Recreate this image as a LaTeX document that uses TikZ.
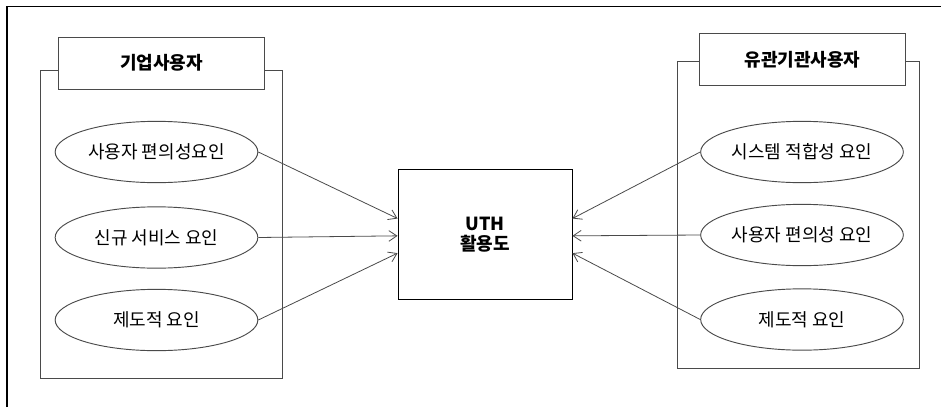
\documentclass[tikz,border=0pt]{standalone}
\usepackage{fontspec}
\setmainfont{Noto Sans CJK KR}
\usetikzlibrary{shapes.geometric,arrows.meta}
\definecolor{linegray}{HTML}{4A4A4A}
\tikzset{
  factor/.style={ellipse,draw=linegray,line width=0.7pt,minimum width=152pt,minimum height=46pt,inner sep=0pt,font=\fontsize{13.5}{16}\selectfont},
  grouptitle/.style={rectangle,draw=linegray,line width=0.7pt,fill=white,minimum width=155pt,minimum height=39pt,inner sep=0pt,font=\fontsize{13.5}{16}\selectfont\bfseries},
  groupframe/.style={draw=linegray,line width=0.7pt},
  effect/.style={draw=linegray,line width=0.6pt,-{Straight Barb[length=6pt,width=8pt]}}
}
\begin{document}
\begin{tikzpicture}[x=0.75pt,y=-0.75pt]
 \useasboundingbox (0,0) rectangle (941,407);
 % outer frame
 \draw[line width=1pt] (7,407) -- (7,6.5) -- (941,6.5);
 % left group
 \draw[groupframe] (40,70) rectangle (282,378);
 \node[grouptitle] (corp) at (161.5,63) {기업사용자};
 \node[factor] (c1) at (156.5,152) {사용자 편의성요인};
 \node[factor] (c2) at (156.5,237.5) {신규 서비스 요인};
 \node[factor] (c3) at (156.5,320) {제도적 요인};
 % right group
 \draw[groupframe] (677,61) rectangle (919,368);
 \node[grouptitle] (inst) at (802.5,59.5) {유관기관사용자};
 \node[factor] (r1) at (802,152) {시스템 적합성 요인};
 \node[factor] (r2) at (802,235) {사용자 편의성 요인};
 \node[factor] (r3) at (802,319.5) {제도적 요인};
 % center
 \node[rectangle,draw=black,line width=0.7pt,minimum width=130.5pt,minimum height=97pt,align=center,
   font=\fontsize{13.5}{15}\selectfont\bfseries] (uth) at (485,234.5) {UTH\\활용도};
 \draw[effect] (c1.east) -- ([yshift=12pt]uth.west);
 \draw[effect] (c2.east) -- ([yshift=-1pt]uth.west);
 \draw[effect] (c3.east) -- ([yshift=-14pt]uth.west);
 \draw[effect] (r1.west) -- ([yshift=12pt]uth.east);
 \draw[effect] (r2.west) -- ([yshift=-1pt]uth.east);
 \draw[effect] (r3.west) -- ([yshift=-14pt]uth.east);
\end{tikzpicture}
\end{document}
